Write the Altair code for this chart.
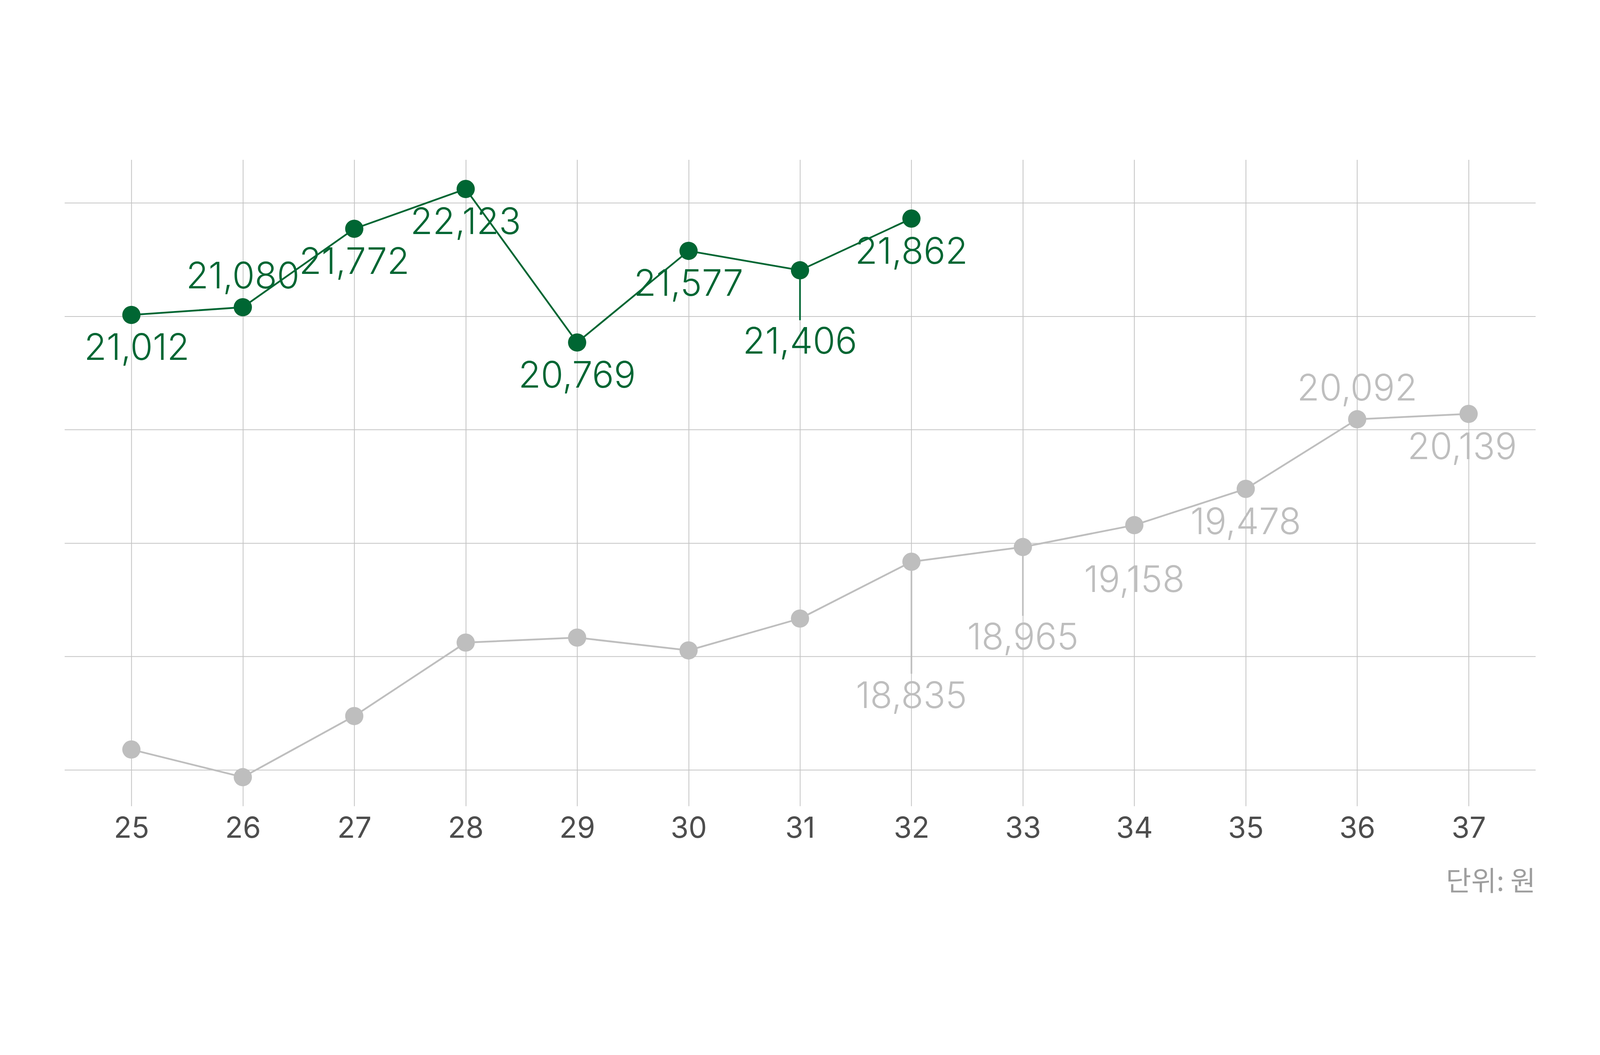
import altair as alt
import pandas as pd

# ---- data ----
years = [25, 26, 27, 28, 29, 30, 31, 32, 33, 34, 35, 36, 37]
gray_values = [17179, 16935, 17474, 18122, 18166, 18053, 18334,
               18835, 18965, 19158, 19478, 20092, 20139]
green_years = [25, 26, 27, 28, 29, 30, 31, 32]
green_values = [21012, 21080, 21772, 22123, 20769, 21577, 21406, 21862]
gray_labeled_years = [32, 33, 34, 35, 36, 37]
y_grid_values = [17000, 18000, 19000, 20000, 21000, 22000]
unit_text = "단위: 원"

# ---- styles ----
GREEN = "#006633"
GRAY = "#bebebe"
GRID = "#c4c4c4"

rows = []
for x, v in zip(years, gray_values):
    rows.append({"series": "gray", "x": x, "value": v,
                 "key": f"gray{x}", "labeled": x in gray_labeled_years})
for x, v in zip(green_years, green_values):
    rows.append({"series": "green", "x": x, "value": v,
                 "key": f"green{x}", "labeled": True})
df = pd.DataFrame(rows)

# label placement: pixel offset of the label centre from its point
default_place = (0, 100)
special_place = {
    "green25": (17, 100),
    "green26": (0, -100),
    "green31": (0, 220),
    "gray32": (0, 416),
    "gray33": (0, 279),
    "gray34": (0, 168),
    "gray36": (0, -100),
    "gray37": (-20, 100),
}
# leader line lengths in pixels
leaders = {"green31": 156, "gray32": 350, "gray33": 215}

LABEL_SIZE = 114

color_scale = alt.Scale(domain=["green", "gray"], range=[GREEN, GRAY])

x_enc = alt.X(
    "x:Q",
    scale=alt.Scale(domain=[24.4, 37.6], nice=False, zero=False),
    axis=alt.Axis(
        values=years, format="d", grid=True, gridColor=GRID, gridWidth=2.5,
        domain=False, ticks=False, tickSize=0,
        labelFont="Inter", labelFontSize=91, labelColor="#4d4d4d",
        labelPadding=27, labelFlush=False,
        title=unit_text, titleFont="Noto Sans CJK KR", titleFontSize=86,
        titleFontWeight="normal", titleColor="#9e9e9e",
        titleAnchor="end", titleAlign="right", titlePadding=80,
    ),
)
y_enc = alt.Y(
    "value:Q",
    scale=alt.Scale(domain=[16680, 22382], nice=False, zero=False),
    axis=alt.Axis(
        values=y_grid_values, grid=True, gridColor=GRID, gridWidth=2.5,
        domain=False, ticks=False, labels=False, title=None,
    ),
)

base = alt.Chart(df).encode(x=x_enc, y=y_enc)

lines = base.mark_line(strokeWidth=5.5).encode(
    color=alt.Color("series:N", scale=color_scale, legend=None)
)

leader_layers = []
for key, length in leaders.items():
    leader_layers.append(
        base.transform_filter(alt.datum.key == key)
        .mark_rule(strokeWidth=5, y2Offset=length)
        .encode(y2=alt.Y2("value:Q"),
                color=alt.Color("series:N", scale=color_scale, legend=None))
    )

points = base.mark_circle(size=3249, opacity=1).encode(
    color=alt.Color("series:N", scale=color_scale, legend=None)
)

groups = {}
for r in rows:
    if not r["labeled"]:
        continue
    place = special_place.get(r["key"], default_place)
    groups.setdefault(place, []).append(r["key"])

label_layers = []
for (dx, dy), keys in groups.items():
    label_layers.append(
        base.transform_filter(alt.FieldOneOfPredicate(field="key", oneOf=keys))
        .mark_text(font="Inter", fontSize=LABEL_SIZE, fontWeight=300,
                   align="center", baseline="middle",
                   dx=dx, dy=dy + round(0.0635 * LABEL_SIZE))
        .encode(text=alt.Text("value:Q", format=",d"),
                color=alt.Color("series:N", scale=color_scale, legend=None))
    )

chart = (
    alt.layer(lines, *leader_layers, points, *label_layers)
    .properties(width=4600, height=2021,
                autosize=alt.AutoSizeParams(type="none"),
                padding={"left": 192, "top": 192, "right": 192, "bottom": 470},
                background="white")
    .configure_view(strokeWidth=0)
)

chart.save("out.html", embed_options={"renderer": "svg", "actions": False})
